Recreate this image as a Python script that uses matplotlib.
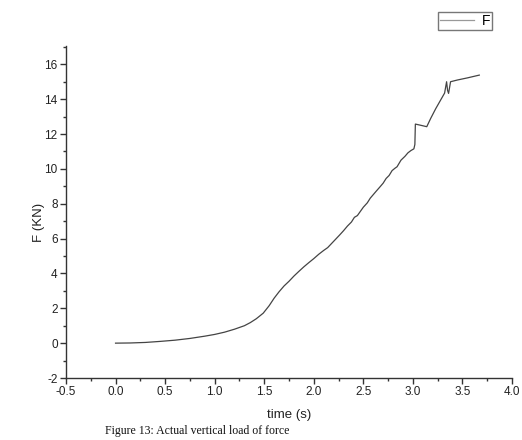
import matplotlib.pyplot as plt
from matplotlib.ticker import MultipleLocator

# time (s) and force (KN)
time_s = [0.00, 0.15, 0.30, 0.45, 0.60, 0.75, 0.90, 1.00, 1.10, 1.20, 1.30, 1.36,
          1.42, 1.49, 1.55, 1.60, 1.65, 1.70, 1.75, 1.80, 1.85, 1.90, 1.95, 2.00,
          2.05, 2.10, 2.14, 2.18, 2.22, 2.26, 2.30, 2.34, 2.38, 2.41, 2.44, 2.46,
          2.50, 2.54, 2.57, 2.60, 2.63, 2.67, 2.70, 2.73, 2.76, 2.79, 2.82, 2.84,
          2.88, 2.92, 2.95, 2.98, 3.01, 3.02, 3.025, 3.08, 3.14, 3.18, 3.23, 3.28,
          3.32, 3.34, 3.35, 3.36, 3.38, 3.45, 3.55, 3.67]
force_kn = [0.00, 0.01, 0.04, 0.10, 0.17, 0.27, 0.40, 0.50, 0.63, 0.80, 1.00, 1.18,
            1.40, 1.72, 2.15, 2.58, 2.95, 3.28, 3.55, 3.85, 4.12, 4.38, 4.62, 4.85,
            5.10, 5.32, 5.48, 5.72, 5.96, 6.20, 6.45, 6.72, 6.95, 7.22, 7.32, 7.48,
            7.80, 8.05, 8.32, 8.52, 8.72, 8.98, 9.18, 9.45, 9.62, 9.90, 10.04, 10.12,
            10.50, 10.72, 10.92, 11.05, 11.15, 11.40, 12.57, 12.50, 12.42, 12.90, 13.45, 13.95,
            14.35, 15.00, 14.50, 14.33, 15.00, 15.10, 15.22, 15.38]

x_ticks = [-0.5, 0.0, 0.5, 1.0, 1.5, 2.0, 2.5, 3.0, 3.5, 4.0]
y_ticks = [-2, 0, 2, 4, 6, 8, 10, 12, 14, 16]

plt.rcParams['font.family'] = ['Liberation Sans', 'DejaVu Sans']
plt.rcParams['axes.unicode_minus'] = False

fig = plt.figure(figsize=(5.22, 4.40), dpi=100)
ax = fig.add_axes([66 / 522, 62 / 440, 446 / 522, 332 / 440])

ax.plot(time_s, force_kn, color='#444444', linewidth=0.9, label='F')

ax.set_xlim(-0.5, 4.0)
ax.set_ylim(-2, 17.05)
ax.set_xticks(x_ticks)
ax.set_xticklabels(['%.1f' % v for v in x_ticks])
ax.set_yticks(y_ticks)
ax.xaxis.set_minor_locator(MultipleLocator(0.25))
ax.yaxis.set_minor_locator(MultipleLocator(1))

ax.spines['top'].set_visible(False)
ax.spines['right'].set_visible(False)
for s in ['left', 'bottom']:
    ax.spines[s].set_color('#333333')
    ax.spines[s].set_linewidth(1.0)

ax.tick_params(which='major', direction='out', length=4, width=1, color='#333333',
               labelsize=8.5, labelcolor='#222222', pad=2)
ax.tick_params(which='minor', direction='out', length=2.5, width=1, color='#333333')

ax.set_xlabel('time (s)', fontsize=9.5, color='#222222')
ax.xaxis.set_label_coords(0.5, -31 / 332)
ax.set_ylabel('F (KN)', fontsize=9.5, color='#222222')
ax.yaxis.set_label_coords(-21 / 446, 0.47)

leg = ax.legend(loc='upper right', bbox_to_anchor=(492 / 522, 428 / 440),
                bbox_transform=fig.transFigure, fontsize=10, frameon=True,
                fancybox=False, handlelength=2.5, handletextpad=0.5,
                borderpad=0.15, borderaxespad=0)
leg.get_frame().set_edgecolor('#555555')
leg.get_frame().set_linewidth(1.0)
leg.get_lines()[0].set_color('#999999')

fig.text(105 / 522, 3 / 440, 'Figure 13: Actual vertical load of force',
         fontsize=8.5, family=['Liberation Serif', 'DejaVu Serif'],
         color='#111111', ha='left', va='bottom')

fig.savefig('out.png', dpi=100)
